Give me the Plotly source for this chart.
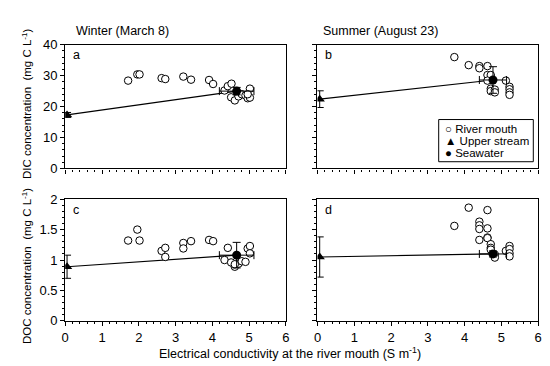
import plotly.graph_objects as go
from plotly.subplots import make_subplots

# ---------------- data ----------------
# Winter (March 8) - DIC, river mouth
win_dic_x = [1.71, 1.96, 2.02, 2.62, 2.72, 3.21, 3.42, 3.91, 4.02,
             4.33, 4.42, 4.52, 4.51, 4.61, 4.71, 4.80, 4.90, 4.96, 5.02, 5.02, 4.96]
win_dic_y = [28.4, 30.4, 30.4, 29.2, 28.9, 29.7, 28.7, 28.6, 27.3,
             25.2, 26.6, 27.4, 23.0, 22.0, 23.3, 24.0, 23.6, 22.7, 25.8, 22.9, 24.0]
# Summer (August 23) - DIC, river mouth
sum_dic_x = [3.72, 4.11, 4.40, 4.40, 4.62, 4.62, 4.71, 4.62, 4.71, 4.71, 4.82, 4.82,
             5.12, 5.22, 5.22, 5.22, 5.22]
sum_dic_y = [36.0, 33.4, 33.1, 32.4, 33.1, 30.2, 30.2, 28.4, 25.8, 25.0, 25.5, 24.6,
             28.4, 26.4, 25.6, 24.6, 23.8]
# Winter - DOC, river mouth
win_doc_x = [1.71, 1.96, 2.02, 2.62, 2.72, 2.72, 3.21, 3.21, 3.42, 3.91, 4.02,
             4.42, 4.33, 4.51, 4.61, 4.71, 4.80, 4.90, 4.96, 5.02, 5.02, 4.61]
win_doc_y = [1.32, 1.50, 1.32, 1.15, 1.20, 1.05, 1.28, 1.19, 1.31, 1.33, 1.31,
             1.20, 1.00, 0.96, 0.89, 0.94, 0.98, 0.97, 1.19, 1.23, 1.11, 0.93]
# Summer - DOC, river mouth
sum_doc_x = [3.72, 4.11, 4.62, 4.40, 4.40, 4.40, 4.62, 4.62, 4.62, 4.40, 4.71, 4.71,
             4.71, 4.82, 4.82, 5.12, 5.22, 5.22, 5.22, 5.22]
sum_doc_y = [1.56, 1.86, 1.82, 1.63, 1.57, 1.51, 1.52, 1.37, 1.36, 1.33, 1.26, 1.20,
             1.17, 1.09, 1.04, 1.15, 1.23, 1.18, 1.11, 1.06]

# Upper stream: [winter DIC, summer DIC, winter DOC, summer DOC]
up_x = [0.05, 0.06, 0.05, 0.06]
up_y = [17.3, 22.4, 0.89, 1.05]
up_yerr = [0.8, 2.7, 0.19, 0.33]
# Seawater
sw_x = [4.66, 4.77, 4.66, 4.77]
sw_xerr = [0.47, 0.37, 0.47, 0.37]
sw_y = [25.0, 28.6, 1.08, 1.10]
sw_yerr = [1.2, 4.3, 0.21, 0.05]

panel_titles = ["Winter (March 8)", "Summer (August 23)"]
panel_letters = ["a", "b", "c", "d"]
x_ticks = [0, 1, 2, 3, 4, 5, 6]
dic_ticks = [0, 10, 20, 30, 40]
doc_ticks = [0, 0.5, 1, 1.5, 2]
doc_ticklabels = ["0", "0.5", "1", "1.5", "2"]

FONT = "Liberation Sans, Arial, sans-serif"
W, H = 550, 366

fig = make_subplots(rows=2, cols=2)

river = [(win_dic_x, win_dic_y), (sum_dic_x, sum_dic_y), (win_doc_x, win_doc_y), (sum_doc_x, sum_doc_y)]
cells = [(1, 1), (1, 2), (2, 1), (2, 2)]

for i, ((rx, ry), (r, c)) in enumerate(zip(river, cells)):
    fig.add_trace(go.Scatter(x=[up_x[i], sw_x[i]], y=[up_y[i], sw_y[i]], mode="lines",
                             line=dict(color="black", width=1.2), showlegend=False,
                             hoverinfo="skip"), row=r, col=c)
    fig.add_trace(go.Scatter(x=rx, y=ry, mode="markers", name="River mouth",
                             marker=dict(symbol="circle", size=7.5, color="white",
                                         line=dict(color="black", width=1)),
                             showlegend=False), row=r, col=c)
    fig.add_trace(go.Scatter(x=[up_x[i]], y=[up_y[i]], mode="markers", name="Upper stream",
                             marker=dict(symbol="triangle-up", size=9, color="black"),
                             error_y=dict(type="data", array=[up_yerr[i]], color="black",
                                          thickness=1, width=4),
                             showlegend=False), row=r, col=c)
    fig.add_trace(go.Scatter(x=[sw_x[i]], y=[sw_y[i]], mode="markers", name="Seawater",
                             marker=dict(symbol="circle", size=9, color="black"),
                             error_y=dict(type="data", array=[sw_yerr[i]], color="black",
                                          thickness=1, width=4),
                             error_x=dict(type="data", array=[sw_xerr[i]], color="black",
                                          thickness=1, width=4),
                             showlegend=False), row=r, col=c)

xd = [[54 / W, 278 / W], [310 / W, 534 / W]]
yd = [[(H - 160) / H, (H - 31) / H], [(H - 319) / H, (H - 192) / H]]

axis_common = dict(showline=True, linecolor="black", linewidth=1.2, mirror=True,
                   ticks="outside", ticklen=4, tickwidth=1, tickcolor="black",
                   showgrid=False, zeroline=False,
                   tickfont=dict(family=FONT, size=13, color="black"))

for (r, c) in cells:
    fig.update_xaxes(domain=xd[c - 1], range=[0, 6], tickvals=x_ticks,
                     showticklabels=(r == 2),
                     minor=dict(dtick=0.2, ticklen=2, tickcolor="black", ticks="outside"),
                     **axis_common, row=r, col=c)
    if r == 1:
        fig.update_yaxes(domain=yd[0], range=[0, 40], tickvals=dic_ticks,
                         showticklabels=(c == 1),
                         minor=dict(dtick=2, ticklen=2, tickcolor="black", ticks="outside"),
                         **axis_common, row=r, col=c)
    else:
        fig.update_yaxes(domain=yd[1], range=[0, 2], tickvals=doc_ticks,
                         ticktext=doc_ticklabels, showticklabels=(c == 1),
                         minor=dict(dtick=0.1, ticklen=2, tickcolor="black", ticks="outside"),
                         **axis_common, row=r, col=c)

ann = []
ann.append(dict(text=panel_titles[0], x=63 / W, y=(H - 17) / H, xref="paper", yref="paper",
                xanchor="left", yanchor="middle", showarrow=False,
                font=dict(family=FONT, size=12.5, color="black")))
ann.append(dict(text=panel_titles[1], x=314 / W, y=(H - 17) / H, xref="paper", yref="paper",
                xanchor="left", yanchor="middle", showarrow=False,
                font=dict(family=FONT, size=12.5, color="black")))
letter_pos = [(65, 42), (321, 42), (65, 203), (321, 203)]
for L, (px, py) in zip(panel_letters, letter_pos):
    ann.append(dict(text=L, x=px / W, y=(H - py) / H, xref="paper", yref="paper",
                    xanchor="center", yanchor="middle", showarrow=False,
                    font=dict(family=FONT, size=12.5, color="black")))
ann.append(dict(text="DIC concentration  (mg C L<sup>-1</sup>)", x=15 / W, y=(H - 92) / H,
                xref="paper", yref="paper", textangle=-90, showarrow=False,
                xanchor="center", yanchor="middle",
                font=dict(family=FONT, size=11.5, color="black")))
ann.append(dict(text="DOC concentration  (mg C L<sup>-1</sup>)", x=15 / W, y=(H - 262) / H,
                xref="paper", yref="paper", textangle=-90, showarrow=False,
                xanchor="center", yanchor="middle",
                font=dict(family=FONT, size=11.5, color="black")))
ann.append(dict(text="Electrical conductivity at the river mouth (S m<sup>-1</sup>)",
                x=282 / W, y=(H - 352) / H, xref="paper", yref="paper",
                xanchor="center", yanchor="middle", showarrow=False,
                font=dict(family=FONT, size=12.5, color="black")))
leg_items = ["\u25CB River mouth", "\u25B2 Upper stream", "\u25CF Seawater"]
for k, t in enumerate(leg_items):
    ann.append(dict(text=t, x=437 / W, y=(H - (119 + 12.5 * k)) / H, xref="paper", yref="paper",
                    xanchor="left", yanchor="middle", showarrow=False,
                    font=dict(family=FONT, size=11.5, color="black")))

fig.update_layout(
    width=W, height=H, margin=dict(l=0, r=0, t=0, b=0),
    paper_bgcolor="white", plot_bgcolor="white",
    showlegend=False, annotations=ann,
    shapes=[dict(type="rect", xref="paper", yref="paper",
                 x0=433 / W, x1=529 / W, y0=(H - 153) / H, y1=(H - 109) / H,
                 line=dict(color="black", width=1), fillcolor="white", layer="above")],
)

fig.write_html("out.html")
